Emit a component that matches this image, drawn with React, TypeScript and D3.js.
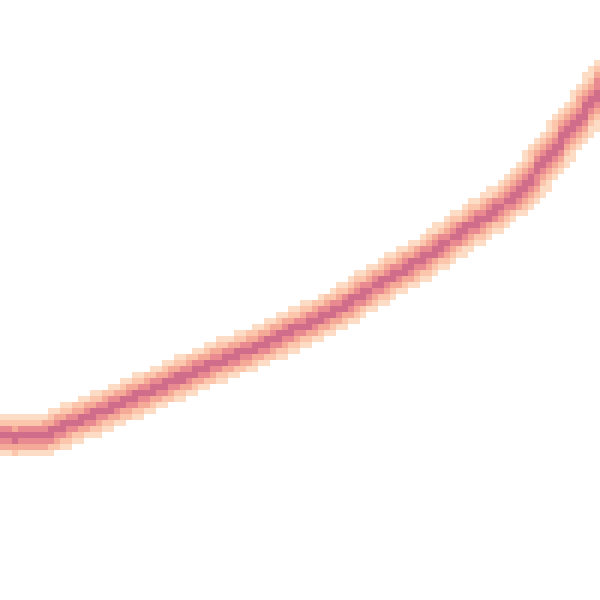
import React from "react";
import * as d3 from "d3";

const curveX = [0, 40, 60, 100, 140, 180, 220, 257, 300, 340, 380, 420, 440, 460, 480, 500, 520, 540, 560, 580, 600];
const curveY = [437, 436, 428, 412, 395, 378, 361, 347, 327, 308, 283, 260, 247, 233, 220, 207, 190, 167, 142, 117, 90];
const bandLevels = [4, 8, 12, 16, 21];
const bandColors = ["#d06d8b", "#e88a90", "#f5a997", "#fbc6ab", "#fddcc6"];

const W = 600, H = 600;
const COLS = 100, ROWS = 100;

function distToPolyline(px: number, py: number, pts: [number, number][]) {
  let best = Infinity;
  for (let i = 0; i < pts.length - 1; i++) {
    const [x1, y1] = pts[i];
    const [x2, y2] = pts[i + 1];
    const dx = x2 - x1, dy = y2 - y1;
    const L = dx * dx + dy * dy;
    let t = L ? ((px - x1) * dx + (py - y1) * dy) / L : 0;
    t = Math.max(0, Math.min(1, t));
    const qx = x1 + t * dx, qy = y1 + t * dy;
    const d = Math.hypot(px - qx, py - qy);
    if (d < best) best = d;
  }
  return best;
}

function catmull(pts: [number, number][], steps: number): [number, number][] {
  const out: [number, number][] = [];
  for (let i = 0; i < pts.length - 1; i++) {
    const p0 = pts[Math.max(0, i - 1)], p1 = pts[i], p2 = pts[i + 1], p3 = pts[Math.min(pts.length - 1, i + 2)];
    for (let s = 0; s < steps; s++) {
      const t = s / steps, t2 = t * t, t3 = t2 * t;
      const f = (a: number, b: number, c: number, d: number) =>
        0.5 * (2 * b + (-a + c) * t + (2 * a - 5 * b + 4 * c - d) * t2 + (-a + 3 * b - 3 * c + d) * t3);
      out.push([f(p0[0], p1[0], p2[0], p3[0]), f(p0[1], p1[1], p2[1], p3[1])]);
    }
  }
  out.push(pts[pts.length - 1]);
  return out;
}

export default function App() {
  const x = d3.scaleLinear().domain([0, 600]).range([0, W]);
  const y = d3.scaleLinear().domain([0, 600]).range([0, H]);
  const base = curveX.map((v, i) => [x(v), y(curveY[i])] as [number, number]);
  const first = base[0], last = base[base.length - 1], prev = base[base.length - 2];
  const ext: [number, number][] = [[first[0] - 30, first[1]], ...base, [last[0] + (last[0] - prev[0]), last[1] + (last[1] - prev[1])]];
  const pts = catmull(ext, 8);
  const cw = W / COLS, ch = H / ROWS;
  const color = d3.scaleThreshold<number, string>().domain(bandLevels).range([...bandColors, "none"]);
  const cells: JSX.Element[] = [];
  for (let r = 0; r < ROWS; r++) {
    for (let c = 0; c < COLS; c++) {
      const cx = (c + 0.5) * cw, cy = (r + 0.5) * ch;
      const d = distToPolyline(cx, cy, pts);
      const f = color(d);
      if (f !== "none") cells.push(<rect key={r * COLS + c} x={c * cw} y={r * ch} width={cw} height={ch} fill={f} />);
    }
  }
  return (
    <svg width={W} height={H} style={{ position: "absolute", left: 0, top: 0, background: "#fff" }} shapeRendering="crispEdges">
      {cells}
    </svg>
  );
}
